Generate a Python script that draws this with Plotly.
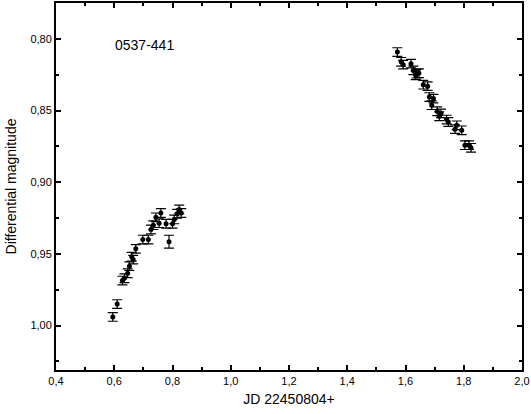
import plotly.graph_objects as go

# JD offset and differential magnitude
jd = [0.595, 0.610, 0.628, 0.635, 0.646, 0.652, 0.660, 0.665, 0.674, 0.698,
      0.717, 0.726, 0.734, 0.743, 0.754, 0.760, 0.778, 0.788, 0.800, 0.806,
      0.816, 0.823, 0.830,
      1.572, 1.585, 1.592, 1.619, 1.627, 1.635, 1.638, 1.646, 1.661, 1.676,
      1.682, 1.690, 1.696, 1.709, 1.716, 1.722, 1.741, 1.747, 1.770, 1.776,
      1.793, 1.804, 1.818, 1.825]
mag = [0.994, 0.985, 0.9686, 0.967, 0.9635, 0.9586, 0.952, 0.954, 0.9465, 0.940,
       0.940, 0.933, 0.930, 0.9245, 0.9286, 0.9215, 0.929, 0.9415, 0.929, 0.926,
       0.922, 0.919, 0.9215,
       0.8092, 0.816, 0.818, 0.8173, 0.822, 0.8254, 0.8243, 0.824, 0.832, 0.833,
       0.8406, 0.8463, 0.8417, 0.8505, 0.854, 0.852, 0.8563, 0.858, 0.863, 0.8603,
       0.8638, 0.8742, 0.8742, 0.876]
err = [0.003, 0.003, 0.003, 0.003, 0.003, 0.003, 0.003, 0.003, 0.003, 0.003,
       0.003, 0.003, 0.003, 0.003, 0.003, 0.003, 0.003, 0.0045, 0.003, 0.003,
       0.003, 0.003, 0.003,
       0.003, 0.003, 0.003, 0.003, 0.003, 0.003, 0.003, 0.003, 0.003, 0.003,
       0.003, 0.003, 0.003, 0.003, 0.003, 0.003, 0.003, 0.003, 0.003, 0.003,
       0.003, 0.003, 0.003, 0.003]

fig = go.Figure()
fig.add_trace(go.Scatter(
    x=jd, y=mag, mode="markers",
    marker=dict(color="black", size=5, symbol="circle"),
    error_y=dict(type="data", array=err, color="black", thickness=1.2, width=5),
    showlegend=False,
))

axis_common = dict(
    showline=True, linewidth=2, linecolor="black", mirror="ticks",
    ticks="inside", ticklen=5, tickwidth=2, tickcolor="black",
    showgrid=False, zeroline=False, automargin=False,
    tickfont=dict(family="Liberation Sans", size=11, color="black"),
)

fig.update_xaxes(
    range=[0.4, 2.0], dtick=0.2, tick0=0.4, tickformat=".1f",
    minor=dict(ticks="inside", ticklen=3, tickwidth=2, dtick=0.1, tickcolor="black"),
    title=dict(text="JD 22450804+", font=dict(family="Liberation Sans", size=14, color="black"),
               standoff=8),
    **axis_common,
)
fig.update_yaxes(
    range=[1.031, 0.775], dtick=0.05, tick0=0.8, tickformat=".2f",
    minor=dict(ticks="inside", ticklen=3, tickwidth=2, dtick=0.025, tickcolor="black"),
    title=dict(text="Differential magnitude", font=dict(family="Liberation Sans", size=14, color="black"),
               standoff=10),
    **axis_common,
)

fig.add_annotation(x=0.595, y=0.8045, xref="x", yref="y", text="0537-441",
                   showarrow=False, xanchor="left",
                   font=dict(family="Liberation Sans", size=14, color="black"))

fig.update_layout(
    width=531, height=414,
    margin=dict(l=56, r=9, t=3, b=44),
    plot_bgcolor="white", paper_bgcolor="white",
    separators=",.",
)

# drop the page's default body margin so the figure sits at the window corner
fig.write_html("out.html", config={"displayModeBar": False},
               post_script="document.body.style.margin='0';")
